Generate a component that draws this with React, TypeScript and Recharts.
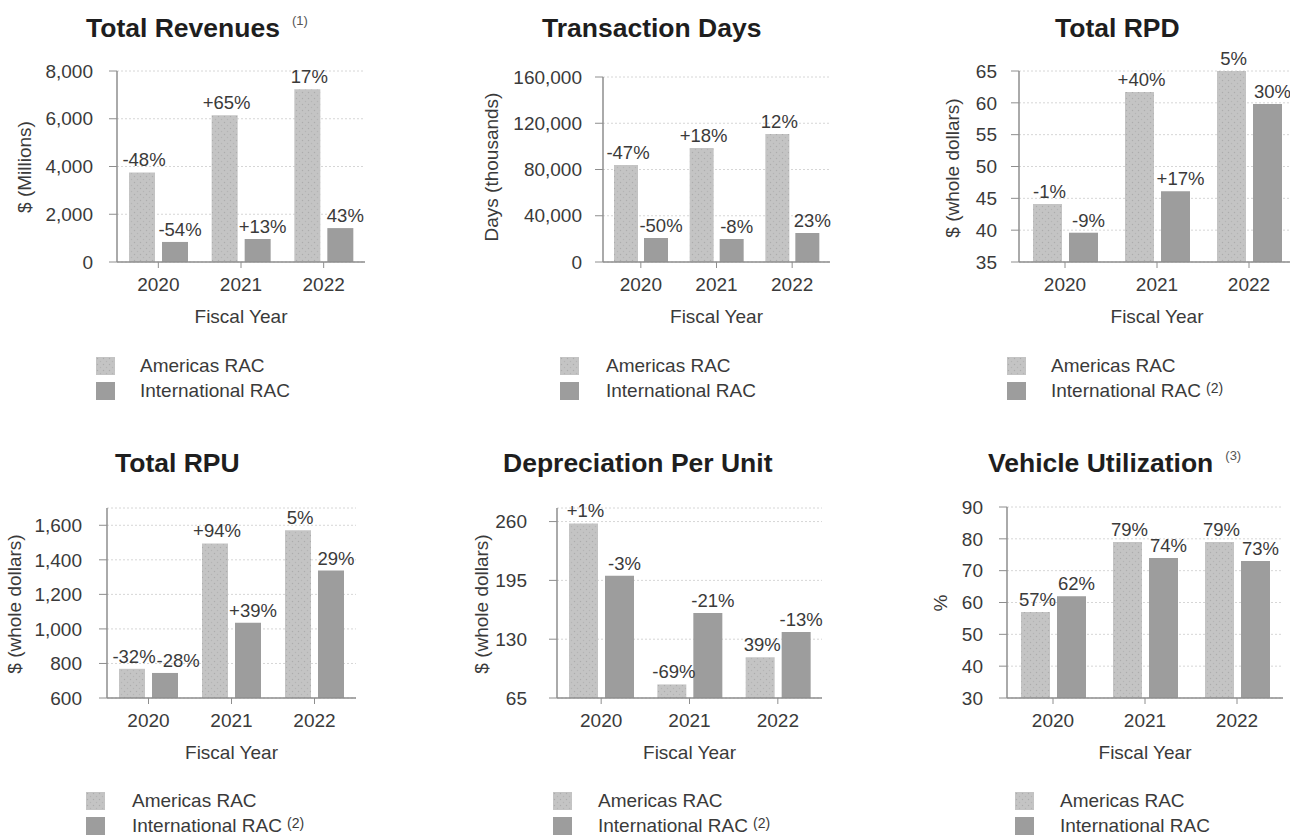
import React from 'react';
import { BarChart, Bar, XAxis, YAxis, CartesianGrid, LabelList } from 'recharts';

// ---------- DATA ----------
const years = ['2020', '2021', '2022'];

const revenuesAmericas = [3750, 6150, 7240];
const revenuesInternational = [840, 960, 1420];
const revenuesAmericasChange = ['-48%', '+65%', '17%'];
const revenuesInternationalChange = ['-54%', '+13%', '43%'];
const revenuesTicks = [0, 2000, 4000, 6000, 8000];

const daysAmericas = [83900, 98600, 110700];
const daysInternational = [20800, 19900, 25000];
const daysAmericasChange = ['-47%', '+18%', '12%'];
const daysInternationalChange = ['-50%', '-8%', '23%'];
const daysTicks = [0, 40000, 80000, 120000, 160000];

const rpdAmericas = [44.1, 61.7, 65];
const rpdInternational = [39.6, 46.1, 59.8];
const rpdAmericasChange = ['-1%', '+40%', '5%'];
const rpdInternationalChange = ['-9%', '+17%', '30%'];
const rpdTicks = [35, 40, 45, 50, 55, 60, 65];

const rpuAmericas = [769, 1495, 1571];
const rpuInternational = [745, 1036, 1338];
const rpuAmericasChange = ['-32%', '+94%', '5%'];
const rpuInternationalChange = ['-28%', '+39%', '29%'];
const rpuTicks = [600, 800, 1000, 1200, 1400, 1600];

const dpuAmericas = [258, 80, 110];
const dpuInternational = [200, 159, 138];
const dpuAmericasChange = ['+1%', '-69%', '39%'];
const dpuInternationalChange = ['-3%', '-21%', '-13%'];
const dpuTicks = [65, 130, 195, 260];

const utilAmericas = [57, 79, 79];
const utilInternational = [62, 74, 73];
const utilAmericasChange = ['57%', '79%', '79%'];
const utilInternationalChange = ['62%', '74%', '73%'];
const utilTicks = [30, 40, 50, 60, 70, 80, 90];

const seriesNames = ['Americas RAC', 'International RAC'];

// ---------- STYLE / LAYOUT ----------
const FONT = '"Liberation Sans", Arial, Helvetica, sans-serif';
const AXIS = '#8e8e8e';
const TEXT = '#3a3a3a';
const INTL = '#9d9d9d';
const LABEL_FS = 18.5;

type PanelCfg = {
  title: string; titleSup?: string; yLabel: string;
  am: number[]; intl: number[]; amChg: string[]; intlChg: string[];
  ticks: number[]; domain: [number, number];
  intlSup?: string;
  PL: number; PR: number; PT: number; PB: number;
  tickMargin: number; barSize: number; barGap: number;
  titleLeft: number; titleY: number; yLabX: number; yLabY: number;
  fyY: number; legSq: number; legText: number; legY: number;
};

const panels: PanelCfg[] = [
  {
    title: 'Total Revenues', titleSup: '(1)', yLabel: '$ (Millions)',
    am: revenuesAmericas, intl: revenuesInternational, amChg: revenuesAmericasChange, intlChg: revenuesInternationalChange,
    ticks: revenuesTicks, domain: [0, 8000],
    PL: 117, PR: 365, PT: 71, PB: 262, tickMargin: 16, barSize: 26, barGap: 7,
    titleLeft: 86, titleY: 28, yLabX: 25, yLabY: 167, fyY: 317, legSq: 96, legText: 140, legY: 366,
  },
  {
    title: 'Transaction Days', yLabel: 'Days (thousands)',
    am: daysAmericas, intl: daysInternational, amChg: daysAmericasChange, intlChg: daysInternationalChange,
    ticks: daysTicks, domain: [0, 160000],
    PL: 603, PR: 830, PT: 77, PB: 262, tickMargin: 13, barSize: 24, barGap: 6,
    titleLeft: 542, titleY: 28, yLabX: 492, yLabY: 167, fyY: 317, legSq: 560, legText: 606, legY: 366,
  },
  {
    title: 'Total RPD', yLabel: '$ (whole dollars)', intlSup: '(2)',
    am: rpdAmericas, intl: rpdInternational, amChg: rpdAmericasChange, intlChg: rpdInternationalChange,
    ticks: rpdTicks, domain: [35, 65],
    PL: 1019, PR: 1295, PT: 71, PB: 262, tickMargin: 14, barSize: 29, barGap: 7,
    titleLeft: 1055, titleY: 28, yLabX: 953, yLabY: 168, fyY: 317, legSq: 1007, legText: 1051, legY: 366,
  },
  {
    title: 'Total RPU', yLabel: '$ (whole dollars)', intlSup: '(2)',
    am: rpuAmericas, intl: rpuInternational, amChg: rpuAmericasChange, intlChg: rpuInternationalChange,
    ticks: rpuTicks, domain: [600, 1700],
    PL: 107, PR: 356, PT: 508, PB: 698, tickMargin: 17, barSize: 26, barGap: 7,
    titleLeft: 115, titleY: 463, yLabX: 15, yLabY: 604, fyY: 753, legSq: 86, legText: 132, legY: 801,
  },
  {
    title: 'Depreciation Per Unit', yLabel: '$ (whole dollars)', intlSup: '(2)',
    am: dpuAmericas, intl: dpuInternational, amChg: dpuAmericasChange, intlChg: dpuInternationalChange,
    ticks: dpuTicks, domain: [65, 275],
    PL: 557, PR: 822, PT: 508, PB: 698, tickMargin: 22, barSize: 29, barGap: 7,
    titleLeft: 503, titleY: 463, yLabX: 482, yLabY: 604, fyY: 753, legSq: 553, legText: 598, legY: 801,
  },
  {
    title: 'Vehicle Utilization', titleSup: '(3)', yLabel: '%',
    am: utilAmericas, intl: utilInternational, amChg: utilAmericasChange, intlChg: utilInternationalChange,
    ticks: utilTicks, domain: [30, 90],
    PL: 1007, PR: 1283, PT: 507, PB: 698, tickMargin: 16, barSize: 29, barGap: 7,
    titleLeft: 988, titleY: 463, yLabX: 941, yLabY: 603, fyY: 753, legSq: 1015, legText: 1060, legY: 801,
  },
];

const fmt = (v: number) => v.toLocaleString('en-US');

// approximate Arial widths (em) for label collision avoidance
const charW: Record<string, number> = { '%': 0.889, '-': 0.333, '+': 0.584 };
const textWidth = (s: string) => s.split('').reduce((a, c) => a + (charW[c] ?? 0.556), 0) * LABEL_FS;

function Square({ dotted }: { dotted: boolean }) {
  return (
    <svg width={19} height={18} style={{ display: 'block' }}>
      <rect x={0} y={0} width={19} height={18} fill={dotted ? 'url(#amDots)' : INTL} />
    </svg>
  );
}

function Panel({ p }: { p: PanelCfg }) {
  const Yw = 110, mt = 34, mr = 2, Xh = 40;
  const W = p.PR - p.PL + Yw + mr;
  const H = p.PB - p.PT + mt + Xh;
  const data = years.map((y, i) => ({ year: y, am: p.am[i], intl: p.intl[i], amL: p.amChg[i], intlL: p.intlChg[i] }));
  const plotH = p.PB - p.PT;
  const [d0, d1] = p.domain;
  const toY = (v: number) => ((d1 - v) / (d1 - d0)) * plotH;

  const amLabel = (props: any) => {
    const { x, y, width, value } = props;
    return (
      <text x={x + width / 2 + 2} y={y - 6} textAnchor="middle" fill={TEXT} fontSize={LABEL_FS} fontFamily={FONT}>
        {value}
      </text>
    );
  };
  const intlLabel = (props: any) => {
    const { x, y, width, value, index } = props;
    let cx = x + width / 2 + 5;
    const amText = p.amChg[index];
    if (Math.abs(toY(p.am[index]) - toY(p.intl[index])) < 22) {
      const amCenter = x - p.barGap - p.barSize / 2 + 2;
      const minCx = amCenter + textWidth(amText) / 2 + 1 + textWidth(String(value)) / 2;
      cx = Math.max(cx, minCx);
    }
    return (
      <text x={cx} y={y - 6} textAnchor="middle" fill={TEXT} fontSize={LABEL_FS} fontFamily={FONT}>
        {value}
      </text>
    );
  };

  return (
    <>
      <div style={{ position: 'absolute', left: p.titleLeft, top: p.titleY - 15, height: 30, lineHeight: '30px', whiteSpace: 'nowrap', fontSize: 26.5, fontWeight: 'bold', color: '#1e1e1e', fontFamily: FONT }}>
        {p.title}
        {p.titleSup ? <span style={{ fontSize: 13, fontWeight: 'normal', color: '#555', marginLeft: 12, position: 'relative', top: -12 }}>{p.titleSup}</span> : null}
      </div>
      <div style={{ position: 'absolute', left: p.yLabX, top: p.yLabY, transform: 'translate(-50%, -50%) rotate(-90deg)', whiteSpace: 'nowrap', fontSize: 19, lineHeight: '20px', color: TEXT, fontFamily: FONT }}>
        {p.yLabel}
      </div>
      <div style={{ position: 'absolute', left: p.PL - Yw, top: p.PT - mt, width: W, height: H }}>
        <BarChart width={W} height={H} data={data} margin={{ top: mt, right: mr, bottom: 0, left: 0 }} barSize={p.barSize} barGap={p.barGap}>
          <CartesianGrid vertical={false} stroke="#d6d6d6" strokeDasharray="2 2" />
          <XAxis
            dataKey="year"
            height={Xh}
            tickSize={6}
            tickMargin={10}
            axisLine={{ stroke: AXIS, strokeWidth: 1.5 }}
            tickLine={{ stroke: AXIS }}
            tick={{ fill: TEXT, fontSize: 19, fontFamily: FONT }}
            interval={0}
          />
          <YAxis
            type="number"
            width={Yw}
            domain={p.domain}
            ticks={p.ticks}
            allowDataOverflow
            interval={0}
            tickFormatter={fmt}
            tickSize={8}
            tickMargin={p.tickMargin}
            axisLine={{ stroke: AXIS, strokeWidth: 1.5 }}
            tickLine={{ stroke: AXIS }}
            tick={{ fill: TEXT, fontSize: 19, fontFamily: FONT }}
          />
          <Bar dataKey="am" name={seriesNames[0]} fill="url(#amDots)" isAnimationActive={false}>
            <LabelList dataKey="amL" content={amLabel} />
          </Bar>
          <Bar dataKey="intl" name={seriesNames[1]} fill={INTL} isAnimationActive={false}>
            <LabelList dataKey="intlL" content={intlLabel} />
          </Bar>
        </BarChart>
      </div>
      <div style={{ position: 'absolute', left: (p.PL + p.PR) / 2, top: p.fyY - 10, transform: 'translateX(-50%)', whiteSpace: 'nowrap', fontSize: 19, lineHeight: '20px', color: TEXT, fontFamily: FONT }}>
        Fiscal Year
      </div>
      {seriesNames.map((n, i) => (
        <React.Fragment key={n}>
          <div style={{ position: 'absolute', left: p.legSq, top: p.legY + i * 25 - 9 }}>
            <Square dotted={i === 0} />
          </div>
          <div style={{ position: 'absolute', left: p.legText, top: p.legY + i * 25 - 10, whiteSpace: 'nowrap', fontSize: 19, lineHeight: '20px', color: TEXT, fontFamily: FONT }}>
            {n}
            {i === 1 && p.intlSup ? <span style={{ fontSize: 14, marginLeft: 5, position: 'relative', top: -4 }}>{p.intlSup}</span> : null}
          </div>
        </React.Fragment>
      ))}
    </>
  );
}

export default function App() {
  return (
    <div style={{ position: 'fixed', left: 0, top: 0, width: 1290, height: 835, overflow: 'hidden', background: '#fff', fontFamily: FONT }}>
      <svg width={0} height={0} style={{ position: 'absolute' }}>
        <defs>
          <pattern id="amDots" width={6} height={6} patternUnits="userSpaceOnUse">
            <rect width={6} height={6} fill="#c4c4c4" />
            <circle cx={1.5} cy={1.5} r={0.7} fill="#acacac" />
            <circle cx={4.5} cy={4.5} r={0.7} fill="#b4b4b4" />
          </pattern>
        </defs>
      </svg>
      {panels.map((p) => (
        <Panel key={p.title} p={p} />
      ))}
    </div>
  );
}
